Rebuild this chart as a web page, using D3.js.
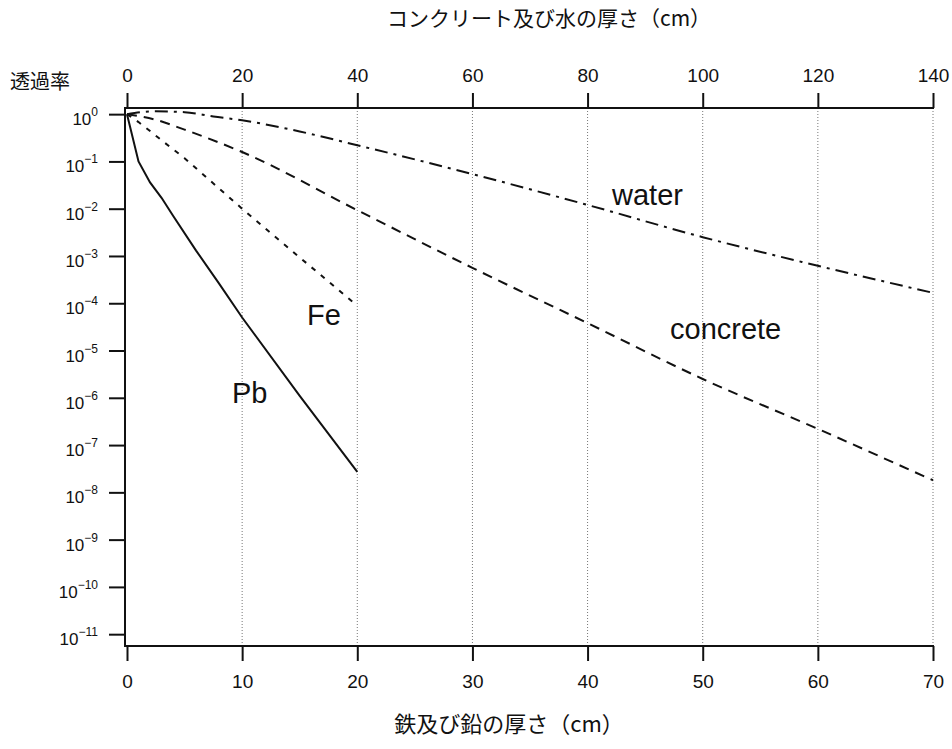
<!DOCTYPE html>
<html>
<head>
<meta charset="utf-8">
<script src="https://cdn.jsdelivr.net/npm/d3@7"></script>
<style>
    body { margin: 0; background: #fff; }
    text { font-family: "Liberation Sans", Arial, sans-serif; fill: #111; }
    .jp { font-family: "Noto Sans CJK JP", sans-serif; }
</style>
</head>
<body>
<svg id="chart_svg"></svg>
<script>
// thickness (cm) and transmission
var pbThick = [0, 1, 2, 3, 4, 6, 8, 10, 15, 20];
var pbTrans = [1, 1.0e-1, 3.6e-2, 1.7e-2, 7.1e-3, 1.3e-3, 2.6e-4, 5.0e-5, 1.1e-6, 2.7e-8];

var feThick = [0, 1, 2, 3, 5, 10, 15, 20];
var feTrans = [1, 0.68, 0.44, 0.28, 0.117, 1.0e-2, 9.3e-4, 8.9e-5];

// concrete and water use the top axis
var concThick = [0, 5, 10, 20, 40, 60, 80, 100, 120, 140];
var concTrans = [1, 0.76, 0.47, 0.158, 9.3e-3, 5.6e-4, 3.8e-5, 2.5e-6, 2.2e-7, 1.8e-8];

var waterThick = [0, 5, 10, 15, 20, 30, 40, 60, 80, 100, 120, 140];
var waterTrans = [1, 1.15, 1.10, 0.89, 0.74, 0.43, 0.22, 5.4e-2, 1.2e-2, 2.5e-3, 6.2e-4, 1.66e-4];

var bottomTicks = [0, 10, 20, 30, 40, 50, 60, 70];
var topTicks = [0, 20, 40, 60, 80, 100, 120, 140];
var yExponents = [0, -1, -2, -3, -4, -5, -6, -7, -8, -9, -10, -11];

var width = 952,
    height = 749;

var plotLeft = 125, plotRight = 934, plotTop = 108, plotBottom = 646;

var svg = d3.select("#chart_svg")
    .attr("width", width)
    .attr("height", height);

var xBottom = d3.scaleLinear().domain([0, 70]).range([127, 933]);
var xTop = d3.scaleLinear().domain([0, 140]).range([127, 933]);
var y = d3.scaleLog().domain([Math.pow(10, -11.25), Math.pow(10, 0.13)]).range([plotBottom, plotTop]);

/** grid **/
svg.selectAll(".grid")
    .data(bottomTicks.slice(1))
    .enter().append("line")
    .attr("class", "grid")
    .attr("x1", function (d) { return xBottom(d); })
    .attr("x2", function (d) { return xBottom(d); })
    .attr("y1", plotTop)
    .attr("y2", plotBottom)
    .attr("stroke", "#777")
    .attr("stroke-width", 1)
    .attr("stroke-dasharray", "1,2");

/** axes **/
var gBottom = svg.append("g")
    .attr("transform", "translate(0," + plotBottom + ")")
    .call(d3.axisBottom(xBottom).tickValues(bottomTicks).tickSize(15).tickSizeOuter(0).tickPadding(14));

var gTop = svg.append("g")
    .attr("transform", "translate(0," + plotTop + ")")
    .call(d3.axisTop(xTop).tickValues(topTicks).tickSize(15).tickSizeOuter(0).tickPadding(11));

var gLeft = svg.append("g")
    .attr("transform", "translate(" + plotLeft + ",0)")
    .call(d3.axisLeft(y).tickValues(yExponents.map(function (e) { return Math.pow(10, e); }))
        .tickSize(16).tickSizeOuter(0).tickFormat(""));

[gBottom, gTop, gLeft].forEach(function (g) {
    g.select(".domain").remove();
    g.selectAll(".tick line").attr("stroke", "#111").attr("stroke-width", 2);
    g.selectAll(".tick text")
        .style("font-family", "'Liberation Sans', Arial, sans-serif")
        .style("font-size", "19px")
        .attr("fill", "#111");
});

// frame lines (no right side)
svg.append("path")
    .attr("d", "M" + plotRight + "," + plotTop + "H" + plotLeft + "V" + plotBottom + "H" + plotRight)
    .attr("fill", "none")
    .attr("stroke", "#111")
    .attr("stroke-width", 2);

// y labels 10^n
var yLab = svg.selectAll(".ylab")
    .data(yExponents)
    .enter().append("text")
    .attr("class", "ylab")
    .attr("x", 98)
    .attr("y", function (d) { return y(Math.pow(10, d)) + 11; })
    .style("text-anchor", "end")
    .style("font-size", "17px");
yLab.append("tspan").text("10");
yLab.append("tspan")
    .attr("dy", -9)
    .style("font-size", "12px")
    .text(function (d) { return d == 0 ? "0" : "\u2212" + (-d); });

/** curves **/
function makeSeries(xs, ts) {
    return xs.map(function (x, i) { return {x: x, t: ts[i]}; });
}

var lineBottom = d3.line()
    .x(function (d) { return xBottom(d.x); })
    .y(function (d) { return y(d.t); });
var lineTop = d3.line()
    .x(function (d) { return xTop(d.x); })
    .y(function (d) { return y(d.t); })
    .curve(d3.curveMonotoneX);

var curves = [
    {data: makeSeries(pbThick, pbTrans), line: lineBottom, dash: null},
    {data: makeSeries(feThick, feTrans), line: lineBottom, dash: "5,7"},
    {data: makeSeries(concThick, concTrans), line: lineTop, dash: "10,7"},
    {data: makeSeries(waterThick, waterTrans), line: lineTop, dash: "13,6,3,6"}
];

curves.forEach(function (c) {
    svg.append("path")
        .attr("d", c.line(c.data))
        .attr("fill", "none")
        .attr("stroke", "#111")
        .attr("stroke-width", 2)
        .attr("stroke-dasharray", c.dash);
});

/** labels **/
var curveLabels = [
    {text: "water", x: 612, y: 205},
    {text: "concrete", x: 670, y: 339},
    {text: "Fe", x: 307, y: 325},
    {text: "Pb", x: 232, y: 403}
];
svg.selectAll(".clab")
    .data(curveLabels)
    .enter().append("text")
    .attr("class", "clab")
    .attr("x", function (d) { return d.x; })
    .attr("y", function (d) { return d.y; })
    .style("font-size", "29px")
    .text(function (d) { return d.text; });

svg.append("text")
    .attr("class", "jp")
    .attr("x", 549)
    .attr("y", 26)
    .style("text-anchor", "middle")
    .style("font-size", "21px")
    .text("コンクリート及び水の厚さ（cm）");

svg.append("text")
    .attr("class", "jp")
    .attr("x", 509)
    .attr("y", 732)
    .style("text-anchor", "middle")
    .style("font-size", "22px")
    .text("鉄及び鉛の厚さ（cm）");

svg.append("text")
    .attr("class", "jp")
    .attr("x", 10)
    .attr("y", 89)
    .style("font-size", "20px")
    .text("透過率");
</script>
</body>
</html>
